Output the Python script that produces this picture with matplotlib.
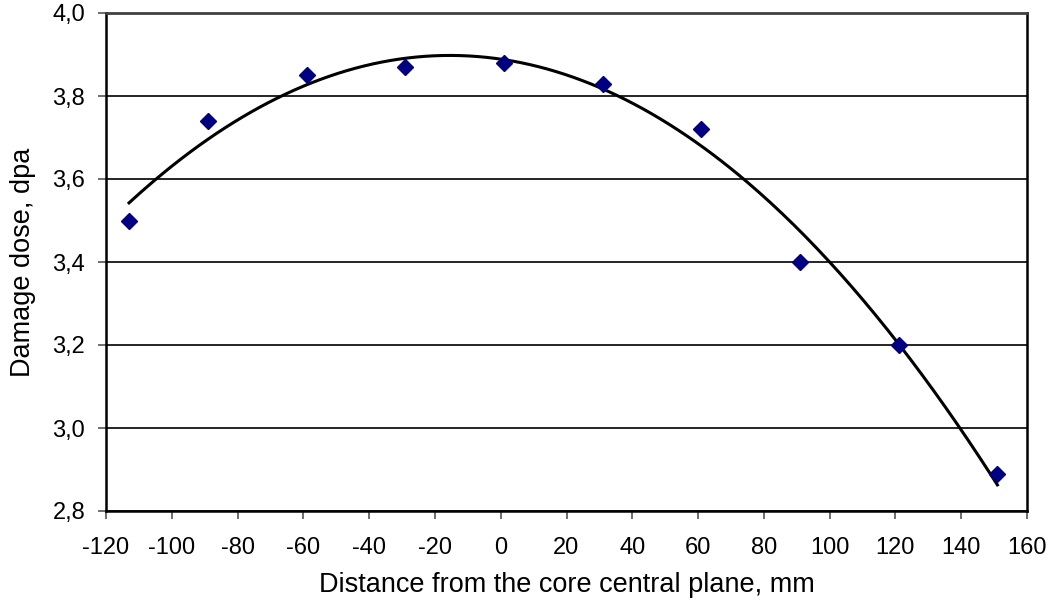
import numpy as np
import matplotlib.pyplot as plt

plt.rcParams['font.family'] = ['Liberation Sans', 'DejaVu Sans']
plt.rcParams['axes.unicode_minus'] = False

# positions along the core axis (mm) and measured damage dose (dpa)
distance = [-113, -89, -59, -29, 1, 31, 61, 91, 121, 151]
dose = [3.50, 3.74, 3.85, 3.87, 3.88, 3.83, 3.72, 3.40, 3.20, 2.89]

x_ticks = list(range(-120, 161, 20))
y_ticks = [2.8, 3.0, 3.2, 3.4, 3.6, 3.8, 4.0]

fig = plt.figure(figsize=(10.53, 6.05), dpi=100)
ax = fig.add_axes([106 / 1053, 1 - 511 / 605, 921 / 1053, 498 / 605])

# 2nd order polynomial trend line, like the spreadsheet one
coef = np.polyfit(distance, dose, 2)
xx = np.linspace(min(distance), max(distance), 300)
ax.plot(xx, np.polyval(coef, xx), color='black', lw=2.2, zorder=3)

ax.plot(distance, dose, linestyle='none', marker='D', ms=8,
        color='#000080', zorder=4)

ax.set_xlim(-120, 160)
ax.set_ylim(2.8, 4.0)
ax.set_xticks(x_ticks)
ax.set_yticks(y_ticks)
ax.set_yticklabels([f'{v:.1f}'.replace('.', ',') for v in y_ticks])
ax.grid(axis='y', color='black', lw=1.2, zorder=1)

for side in ['left', 'bottom', 'right']:
    ax.spines[side].set_linewidth(1.8)
    ax.spines[side].set_color('black')
ax.spines['top'].set_color('#404040')
ax.spines['top'].set_linewidth(2)

ax.tick_params(axis='both', direction='out', length=6, width=1.2,
               color='#555555', labelsize=17)
ax.tick_params(axis='y', pad=9)
ax.tick_params(axis='x', pad=13)

ax.set_xlabel('Distance from the core central plane, mm', fontsize=19.5, labelpad=9)
ax.set_ylabel('Damage dose, dpa', fontsize=19.5, labelpad=12)

fig.savefig('out.png', dpi=100)
